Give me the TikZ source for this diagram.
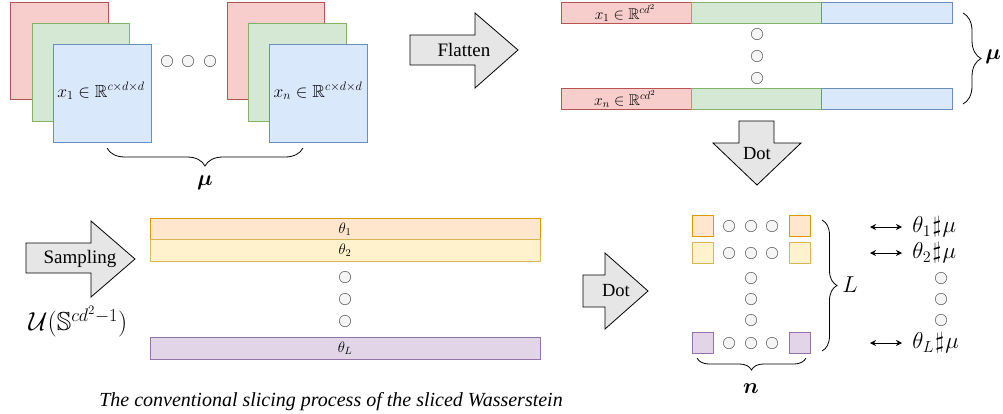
\RequirePackage{fix-cm}
\documentclass[tikz,border=0pt]{standalone}
\usepackage{amsmath,amssymb,bm}
\usepackage[no-math]{fontspec}
\setmainfont{Liberation Serif}
\usepackage{tikz}
\usepackage{xcolor}
\usetikzlibrary{decorations.pathreplacing,arrows.meta}
\DeclareFontFamily{U}{msb}{}
\DeclareFontShape{U}{msb}{m}{n}{<-6>msbm5<6-8>msbm7<8->msbm10}{}
\definecolor{redF}{HTML}{F8CECC}\definecolor{redD}{HTML}{B85450}
\definecolor{grnF}{HTML}{D5E8D4}\definecolor{grnD}{HTML}{82B366}
\definecolor{bluF}{HTML}{DAE8FC}\definecolor{bluD}{HTML}{6C8EBF}
\definecolor{oraF}{HTML}{FFE6CC}\definecolor{oraD}{HTML}{D79B00}
\definecolor{yelF}{HTML}{FFF2CC}\definecolor{yelD}{HTML}{D6B656}
\definecolor{purF}{HTML}{E1D5E7}\definecolor{purD}{HTML}{9673A6}
\definecolor{arrF}{HTML}{E6E6E6}
\newcommand{\fs}[1]{\fontsize{#1}{#1}\selectfont}

\begin{document}
\begin{tikzpicture}[x=1pt,y=-1pt,line width=0.8pt,
  redbox/.style={fill=redF,draw=redD},
  grnbox/.style={fill=grnF,draw=grnD},
  blubox/.style={fill=bluF,draw=bluD},
  orabox/.style={fill=oraF,draw=oraD},
  yelbox/.style={fill=yelF,draw=yelD},
  purbox/.style={fill=purF,draw=purD},
  bigarrow/.style={fill=arrF,draw=black,line join=miter},
  dot/.style={fill=black!4,draw=black!60,line width=0.6pt},
  brace/.style={decorate,decoration={brace,amplitude=#1},line width=0.8pt},
  lbl/.style={inner sep=0pt}]
\useasboundingbox (0,0) rectangle (1003,413);

% image stacks
\filldraw[redbox] (10,2) rectangle (108,99);
\filldraw[grnbox] (32,23) rectangle (129,121);
\filldraw[blubox] (53,44) rectangle (151,142);
\node[lbl,font=\fs{17.5}] (xone) at (101,91) {$x_1\in\mathbb{R}^{c\times d\times d}$};
\filldraw[redbox] (227,2) rectangle (324,99);
\filldraw[grnbox] (248,23) rectangle (346,121);
\filldraw[blubox] (269,44) rectangle (367,142);
\node[lbl,font=\fs{17.5}] (xn) at (318,91) {$x_n\in\mathbb{R}^{c\times d\times d}$};
\foreach \x in {167,188,210} \filldraw[dot] (\x,61) circle (5.7);
\draw[brace=18pt] (303,148) -- (107,148);
\node[lbl,font=\fs{22}] (muA) at (205,183) {$\bm{\mu}$};

% flatten
\draw[bigarrow] (410,35) -- (475,35) -- (475,13) -- (518,50) -- (475,88) -- (475,65) -- (410,65) -- cycle;
\node[lbl,font=\fs{19}] (flat) at (464,50) {Flatten};
\filldraw[redbox] (561,2) rectangle (691,23);
\filldraw[grnbox] (691,2) rectangle (821,23);
\filldraw[blubox] (821,2) rectangle (952,23);
\node[lbl,font=\fs{15.5}] (fone) at (625,13) {$x_1\in\mathbb{R}^{cd^2}$};
\filldraw[redbox] (561,88) rectangle (691,109);
\filldraw[grnbox] (691,88) rectangle (821,109);
\filldraw[blubox] (821,88) rectangle (952,109);
\node[lbl,font=\fs{15.5}] (fn) at (625,99) {$x_n\in\mathbb{R}^{cd^2}$};
\foreach \y in {34,56,78} \filldraw[dot] (757,\y) circle (5.7);
\draw[brace=18pt] (963,13) -- (963,104);
\node[lbl,font=\fs{22},anchor=west] (muB) at (985,57) {$\bm{\mu}$};

% dot (down)
\draw[bigarrow] (739,121) -- (774,121) -- (774,143) -- (801,143) -- (757,185) -- (713,143) -- (739,143) -- cycle;
\node[lbl,font=\fs{18.5}] (dotA) at (757,154) {Dot};

% sampling
\draw[bigarrow] (26,243) -- (91,243) -- (91,221) -- (135,259) -- (91,297) -- (91,273) -- (26,273) -- cycle;
\node[lbl,font=\fs{19}] (samp) at (80,259) {Sampling};
\node[lbl,font=\fs{26}] (unif) at (78,322) {$\mathcal{U}(\mathbb{S}^{cd^2-1})$};
\filldraw[orabox] (150,218) rectangle (540,239);
\filldraw[yelbox] (150,239) rectangle (540,261);
\filldraw[purbox] (150,337) rectangle (540,359);
\node[lbl,font=\fs{15}] (tone) at (345,229) {$\theta_1$};
\node[lbl,font=\fs{15}] (ttwo) at (345,250) {$\theta_2$};
\node[lbl,font=\fs{15}] (tL) at (345,348) {$\theta_L$};
\foreach \y in {277,299,321} \filldraw[dot] (345,\y) circle (5.7);

% dot (right)
\draw[bigarrow] (583,275) -- (605,275) -- (605,253) -- (648,291) -- (605,329) -- (605,307) -- (583,307) -- cycle;
\node[lbl,font=\fs{18.5}] (dotB) at (616,291) {Dot};

% projections
\filldraw[orabox] (692,215) rectangle (713,236);
\filldraw[orabox] (789,215) rectangle (810,236);
\filldraw[yelbox] (692,242) rectangle (713,263);
\filldraw[yelbox] (789,242) rectangle (810,263);
\filldraw[purbox] (692,332) rectangle (713,353);
\filldraw[purbox] (789,332) rectangle (810,353);
\foreach \y in {226,253,343}
  \foreach \x in {729,751,772} \filldraw[dot] (\x,\y) circle (5.7);
\foreach \y in {278,299,320} \filldraw[dot] (751,\y) circle (5.7);
\draw[brace=15pt] (822,220) -- (822,351);
\node[lbl,font=\fs{23},anchor=west] (Lnum) at (842,285) {$L$};
\draw[brace=12pt] (806,358) -- (697,358);
\node[lbl,font=\fs{22}] (nnum) at (751,389) {$\bm{n}$};

% sliced measures
\node[lbl,font=\fs{23},anchor=west] (pone) at (912,227) {$\theta_1\mkern1mu\sharp\mkern1mu\mu$};
\node[lbl,font=\fs{23},anchor=west] (ptwo) at (912,253) {$\theta_2\mkern1mu\sharp\mkern1mu\mu$};
\node[lbl,font=\fs{23},anchor=west] (pL) at (912,343) {$\theta_L\mkern1mu\sharp\mkern1mu\mu$};
\coordinate (aone) at (870,227);
\coordinate (atwo) at (870,253);
\coordinate (aL) at (870,343);
\draw[{Stealth[length=6pt,width=6pt]}-{Stealth[length=6pt,width=6pt]}] (aone) -- ([xshift=-10pt]pone.west);
\draw[{Stealth[length=6pt,width=6pt]}-{Stealth[length=6pt,width=6pt]}] (atwo) -- ([xshift=-10pt]ptwo.west);
\draw[{Stealth[length=6pt,width=6pt]}-{Stealth[length=6pt,width=6pt]}] (aL) -- ([xshift=-10pt]pL.west);
\foreach \y in {278,299,320} \filldraw[dot] (941,\y) circle (5.7);

\node[lbl,font=\fs{20}\itshape] (cap) at (331,402) {The conventional slicing process of the sliced Wasserstein};
\end{tikzpicture}
\end{document}
